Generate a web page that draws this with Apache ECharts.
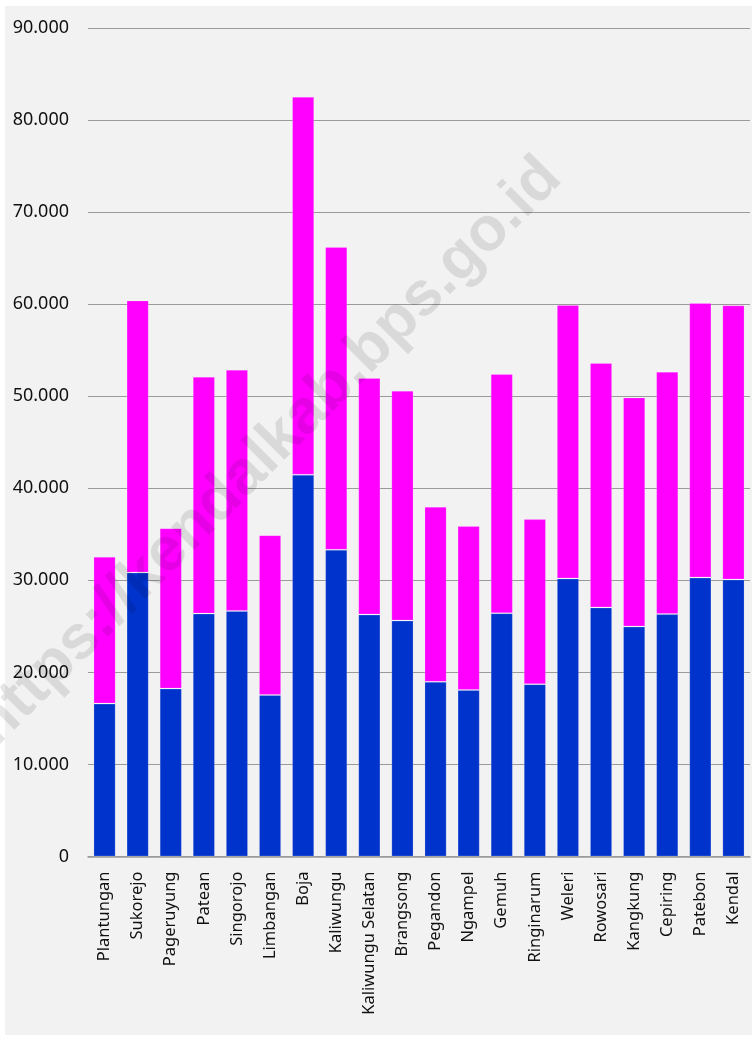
<!DOCTYPE html>
<html>
<head>
<meta charset="utf-8">
<script src="https://cdn.jsdelivr.net/npm/echarts@6/dist/echarts.min.js"></script>
<style>
  html, body { margin: 0; padding: 0; background: #ffffff; }
  #chart { width: 755px; height: 1037px; }
</style>
</head>
<body>
<div id="chart"></div>
<script>
// kecamatan di Kabupaten Kendal
const categories = [
  'Plantungan', 'Sukorejo', 'Pageruyung', 'Patean', 'Singorojo',
  'Limbangan', 'Boja', 'Kaliwungu', 'Kaliwungu Selatan', 'Brangsong',
  'Pegandon', 'Ngampel', 'Gemuh', 'Ringinarum', 'Weleri',
  'Rowosari', 'Kangkung', 'Cepiring', 'Patebon', 'Kendal'
]
// bagian bawah (biru)
const blueValues = [
  16610, 30850, 18240, 26390, 26680,
  17550, 41470, 33320, 26280, 25630,
  18970, 18100, 26430, 18720, 30200,
  27050, 24980, 26330, 30300, 30090
]
// bagian atas (magenta)
const magentaValues = [
  15940, 29560, 17430, 25730, 26200,
  17360, 41050, 32900, 25700, 24970,
  19020, 17790, 25980, 17930, 29710,
  26560, 24890, 26330, 29830, 29780
]
const yTicks = { min: 0, max: 90000, interval: 10000 }
const watermark = 'https://kendalkab.bps.go.id'

function fmt(v) {
  return String(v).replace(/\B(?=(\d{3})+(?!\d))/g, '.')
}

const option = {
  backgroundColor: '#ffffff',
  animation: false,
  textStyle: { fontFamily: 'Noto Sans' },
  graphic: [
    {
      type: 'rect',
      z: -10,
      silent: true,
      shape: { x: 5, y: 6, width: 747, height: 1029 },
      style: { fill: '#f2f2f2' },
    },
    {
      type: 'text',
      z: 100,
      silent: true,
      x: 268,
      y: 452,
      rotation: Math.PI / 4,
      style: {
        text: watermark,
        font: 'bold 62px "Liberation Sans"',
        fill: 'rgba(0,0,0,0.1)',
        align: 'center',
        verticalAlign: 'middle',
      },
    },
  ],
  grid: {
    left: 88,
    right: 5,
    top: 28,
    bottom: 180.5,
    containLabel: false,
  },
  xAxis: {
    type: 'category',
    data: categories,
    axisTick: { show: false },
    axisLine: { show: true, lineStyle: { color: '#9a9a9a', width: 1.5 } },
    axisLabel: {
      rotate: 90,
      interval: 0,
      margin: 15,
      color: '#111111',
      fontSize: 16.5,
      fontFamily: 'Noto Sans',
    },
  },
  yAxis: {
    type: 'value',
    min: yTicks.min,
    max: yTicks.max,
    interval: yTicks.interval,
    axisLine: { show: false },
    axisTick: { show: false },
    splitLine: { lineStyle: { color: '#9a9a9a', width: 1.2 } },
    axisLabel: {
      margin: 19,
      color: '#111111',
      fontSize: 18,
      fontFamily: 'Noto Sans',
      formatter: fmt,
    },
  },
  series: [
    {
      type: 'bar',
      stack: 'total',
      barCategoryGap: '33%',
      data: blueValues,
      itemStyle: {
        color: '#0033cc',
        borderColor: 'rgba(255,255,255,0.18)',
        borderWidth: 1,
      },
    },
    {
      type: 'bar',
      stack: 'total',
      barCategoryGap: '33%',
      data: magentaValues,
      itemStyle: {
        color: '#ff00ff',
        borderColor: 'rgba(255,255,255,0.18)',
        borderWidth: 1,
      },
    },
  ],
}

const myChart = echarts.init(document.getElementById('chart'), null, { renderer: 'canvas' })
myChart.setOption(option)
</script>
</body>
</html>
